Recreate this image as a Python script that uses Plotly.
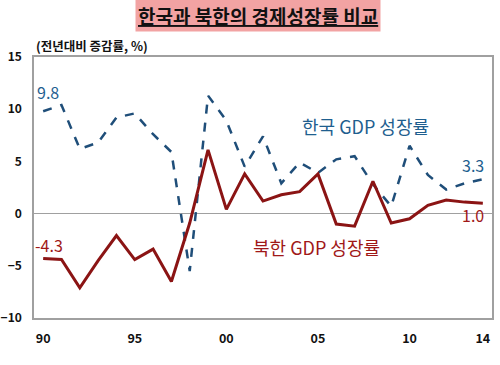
import plotly.graph_objects as go

years = list(range(1990, 2015))
korea = [9.8, 10.4, 6.2, 6.8, 9.2, 9.6, 7.6, 5.9, -5.5, 11.3, 8.9, 4.5, 7.4, 2.9, 4.9,
         3.9, 5.2, 5.5, 2.8, 0.7, 6.5, 3.7, 2.3, 2.9, 3.3]
north = [-4.3, -4.4, -7.1, -4.5, -2.1, -4.4, -3.4, -6.5, -0.9, 6.1, 0.4, 3.8, 1.2, 1.8, 2.1,
         3.8, -1.0, -1.2, 3.1, -0.9, -0.5, 0.8, 1.3, 1.1, 1.0]
xtick_vals = [1990, 1995, 2000, 2005, 2010, 2014]
xtick_text = ["90", "95", "00", "05", "10", "14"]
ytick_vals = [-10, -5, 0, 5, 10, 15]

FONT = "Noto Sans CJK KR"
BLUE_LINE = "#1F4E79"
BLUE_TEXT = "#1F5F8F"
RED_LINE = "#8B1414"
RED_TEXT = "#A01818"

fig = go.Figure()
fig.add_trace(go.Scatter(x=years, y=korea, mode="lines",
                         line=dict(color=BLUE_LINE, width=2.5, dash="dash"),
                         showlegend=False, hoverinfo="skip"))
fig.add_trace(go.Scatter(x=years, y=north, mode="lines",
                         line=dict(color=RED_LINE, width=3),
                         showlegend=False, hoverinfo="skip"))

anns = [
    dict(x=years[0], y=korea[0], text="9.8", xanchor="left", yanchor="bottom",
         xshift=-8, yshift=5, font=dict(color=BLUE_TEXT, size=16)),
    dict(x=years[-1], y=korea[-1], text="3.3", xanchor="right", yanchor="bottom",
         xshift=3, yshift=0, font=dict(color=BLUE_TEXT, size=16)),
    dict(x=years[0], y=north[0], text="-4.3", xanchor="left", yanchor="bottom",
         xshift=-10, yshift=-1, font=dict(color=RED_TEXT, size=16)),
    dict(x=years[-1], y=north[-1], text="1.0", xanchor="right", yanchor="top",
         xshift=3, yshift=2, font=dict(color=RED_TEXT, size=16)),
    dict(x=2007.6, y=8.4, text="한국 GDP 성장률", xanchor="center", yanchor="middle",
         font=dict(color=BLUE_TEXT, size=18)),
    dict(x=2004.9, y=-3.2, text="북한 GDP 성장률", xanchor="center", yanchor="middle",
         font=dict(color=RED_TEXT, size=18)),
]
for a in anns:
    a.update(showarrow=False, xref="x", yref="y")
    a["font"]["family"] = FONT
    fig.add_annotation(**a)

fig.add_annotation(text="<b><u>한국과 북한의 경제성장률 비교</u></b>", xref="paper", yref="paper",
                   x=0.49, y=1.0, yshift=42, xanchor="center", yanchor="middle", showarrow=False,
                   bgcolor="#F2A3A3", borderpad=2,
                   font=dict(family=FONT, size=19, color="#111111"))
fig.add_annotation(text="<b>(전년대비 증감률, %)</b>", xref="paper", yref="paper",
                   x=0.0, y=1.0, yshift=12, xanchor="left", yanchor="middle", showarrow=False,
                   font=dict(family=FONT, size=12.5, color="#111111"))

fig.update_layout(
    width=500, height=365,
    margin=dict(l=34, r=8, t=57, b=47),
    paper_bgcolor="white", plot_bgcolor="white",
    font=dict(family=FONT, color="#111111"),
    xaxis=dict(range=[1989.5, 2014.5], tickvals=xtick_vals, ticktext=xtick_text,
               showgrid=False, zeroline=False, showline=True, linecolor="#A0A0A0",
               linewidth=1.5, mirror=True, ticks="", ticklabelstandoff=8, automargin=False,
               tickfont=dict(family=FONT, size=12.5, color="#111111", weight="bold")),
    yaxis=dict(range=[-10, 15], tickvals=ytick_vals, showgrid=False,
               zeroline=True, zerolinecolor="#A0A0A0", zerolinewidth=1,
               showline=True, linecolor="#A0A0A0", linewidth=1.5, mirror=True,
               ticks="", ticklabelstandoff=8, automargin=False,
               tickfont=dict(family=FONT, size=12, color="#111111", weight="bold")),
)

fig.write_html("out.html", config={"displayModeBar": False},
               post_script="document.body.style.margin='0';")
